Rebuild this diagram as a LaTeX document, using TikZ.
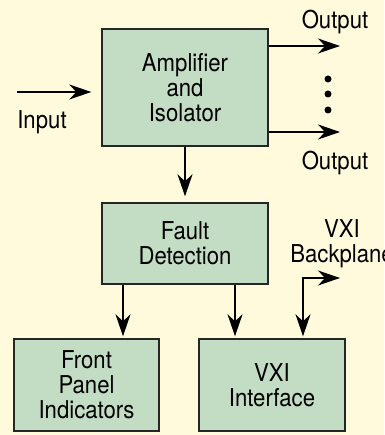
\documentclass[tikz,border=0pt]{standalone}
\usepackage{fontspec}
\setmainfont[FakeStretch=0.9]{TeX Gyre Heros}
\usepackage{tikz}
\usetikzlibrary{calc, positioning, arrows.meta}

\definecolor{bgyellow}{HTML}{FFFADC}
\definecolor{boxgreen}{HTML}{C3DCC4}

\begin{document}
\begin{tikzpicture}[font=\fontsize{14pt}{14.2pt}\selectfont,
      block/.style={draw=black!85, line width=0.8pt, fill=boxgreen, align=center, inner sep=0pt},
      lbl/.style={align=center, inner sep=0pt},
      >={Stealth[length=4.4mm, width=3mm, inset=1.4mm]},
      line width=0.7pt
    ]
    % Hintergrund und Rand
    \fill[bgyellow] (0,0) rectangle (7.68,8.70);
    \useasboundingbox (0,0) rectangle (7.68,8.70);

    % Bloecke
    \node[block, minimum width=3.32cm, minimum height=2.34cm] (amp)   at (3.70,6.95) {Amplifier\\and\\Isolator};
    \node[block, minimum width=3.32cm, minimum height=1.62cm] (fault) at (3.70,3.83) {Fault\\Detection};
    \node[block, minimum width=2.90cm, minimum height=1.84cm] (front) at (1.73,1.00) {Front\\Panel\\Indicators};
    \node[block, minimum width=2.92cm, minimum height=1.84cm] (vxi)   at (5.44,1.00) {VXI\\Interface};

    % Beschriftungen
    \node[lbl] (inlbl)  at (0.84,6.26) {Input};
    \node[lbl] (out1)   at (6.70,8.26) {Output};
    \node[lbl] (out2)   at (6.70,5.44) {Output};
    \node[lbl] (bplbl)  at (6.84,3.82) {VXI\\Backplane};

    % Hilfspunkte fuer die Pfeile
    \coordinate (in)  at (0.34,6.86);
    \coordinate (o1)  at (6.80,7.78);
    \coordinate (o2)  at (6.80,6.06);
    \coordinate (f1)  at (2.46,0);
    \coordinate (f2)  at (4.70,0);
    \coordinate (bpx) at (6.06,0);
    \coordinate (bp)  at (6.80,3.14);

    % Ein- und Ausgaenge
    \draw[->, shorten >=0.2cm] (in) -- (in -| amp.west);
    \draw[->] (amp.east |- o1) -- (o1);
    \draw[->] (amp.east |- o2) -- (o2);
    \foreach \y in {7.12, 6.82, 6.50}
      \fill (6.56,\y) circle (0.07);

    % Verbindungen zwischen den Bloecken
    \draw[->, shorten >=0.12cm] (amp.south) -- (fault.north);
    \draw[->, shorten >=0.04cm] (fault.south -| f1) -- (front.north -| f1);
    \draw[->, shorten >=0.04cm] (fault.south -| f2) -- (vxi.north -| f2);
    \draw[<->, shorten >=0.04cm] (bp) -| (vxi.north -| bpx);
\end{tikzpicture}
\end{document}
